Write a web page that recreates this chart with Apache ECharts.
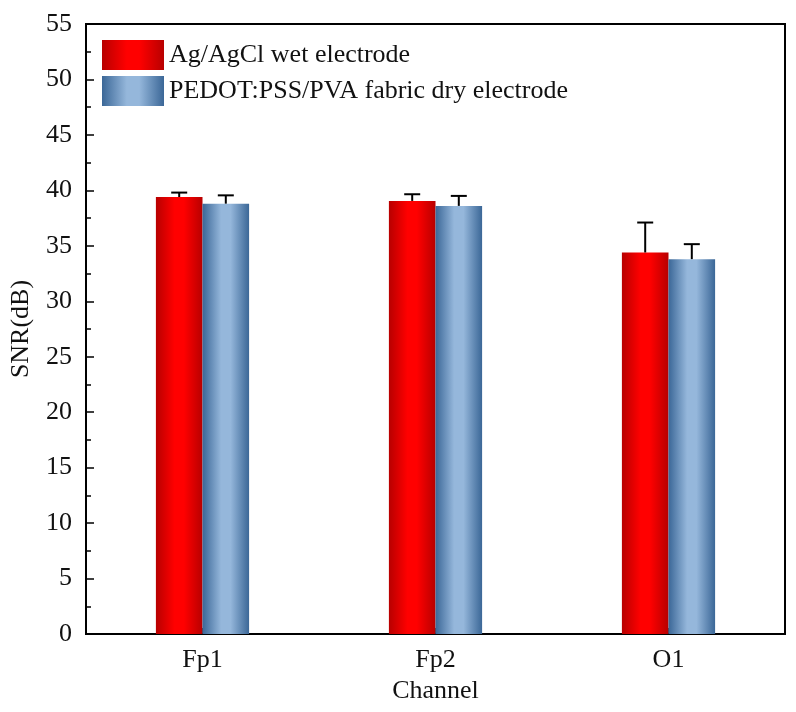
<!DOCTYPE html>
<html>
<head>
<meta charset="utf-8">
<script src="https://cdn.jsdelivr.net/npm/echarts@6/dist/echarts.min.js"></script>
<style>html,body{margin:0;padding:0;background:#fff;}#c{width:796px;height:712px;}</style>
</head>
<body>
<div id="c"></div>
<script>
const categories = ['Fp1', 'Fp2', 'O1'];
const seriesNames = ['Ag/AgCl wet electrode', 'PEDOT:PSS/PVA fabric dry electrode'];
const wetMean = [39.4, 39.05, 34.4];
const wetErr = [0.4, 0.6, 2.7];
const dryMean = [38.8, 38.6, 33.8];
const dryErr = [0.75, 0.9, 1.35];
const yTicks = [0, 5, 10, 15, 20, 25, 30, 35, 40, 45, 50, 55];

const FONT = '"Liberation Serif", "Times New Roman", serif';
const chart = echarts.init(document.getElementById('c'));

function grad(edge, mid) {
  return new echarts.graphic.LinearGradient(0, 0, 1, 0, [
    {offset: 0, color: edge},
    {offset: 0.4, color: mid},
    {offset: 0.6, color: mid},
    {offset: 1, color: edge}
  ]);
}
const redGrad = grad('#b80000', '#ff0000');
const blueGrad = grad('#3b6797', '#95b7db');

function errSeries(mean, err, sign) {
  return {
    type: 'custom',
    z: 5,
    data: mean.map((m, i) => [i, m, m + err[i]]),
    renderItem: function (params, api) {
      const base = api.coord([api.value(0), api.value(1)]);
      const top = api.coord([api.value(0), api.value(2)]);
      const band = api.size([1, 0])[0];
      const x = base[0] + sign * band * 0.1;
      const hw = 8;
      return {
        type: 'group',
        children: [
          {type: 'line', shape: {x1: x, y1: base[1], x2: x, y2: top[1]}, style: {stroke: '#000', lineWidth: 2}},
          {type: 'line', shape: {x1: x - hw, y1: top[1], x2: x + hw, y2: top[1]}, style: {stroke: '#000', lineWidth: 2}}
        ]
      };
    },
    silent: true,
    tooltip: {show: false}
  };
}

chart.setOption({
  animation: false,
  textStyle: {fontFamily: FONT},
  grid: {left: 82, right: 11, top: 24, bottom: 78, show: true, borderColor: '#000', borderWidth: 2},
  legend: {
    orient: 'vertical',
    left: 102, top: 40,
    padding: 0,
    itemWidth: 62, itemHeight: 30, itemGap: 6,
    icon: 'rect',
    data: seriesNames,
    textStyle: {fontFamily: FONT, fontSize: 26, color: '#111'}
  },
  xAxis: {
    type: 'category',
    data: categories,
    name: 'Channel',
    nameLocation: 'middle',
    nameGap: 36,
    nameTextStyle: {fontFamily: FONT, fontSize: 26, color: '#111'},
    axisLine: {lineStyle: {color: '#000', width: 2}},
    axisTick: {show: true, inside: true, alignWithLabel: true, length: 6, lineStyle: {color: '#000', width: 1.5}},
    axisLabel: {fontFamily: FONT, fontSize: 26, color: '#111', margin: 13}
  },
  yAxis: {
    type: 'value',
    min: 0, max: 55, interval: 5,
    name: 'SNR(dB)',
    nameLocation: 'middle',
    nameGap: 52,
    nameRotate: 90,
    nameTextStyle: {fontFamily: FONT, fontSize: 26, color: '#111'},
    axisLine: {show: true, lineStyle: {color: '#000', width: 2}},
    axisTick: {show: true, inside: true, length: 8, lineStyle: {color: '#000', width: 1.5}},
    minorTick: {show: true, splitNumber: 2, length: 5, lineStyle: {color: '#000', width: 1.5}},
    splitLine: {show: false},
    axisLabel: {fontFamily: FONT, fontSize: 26, color: '#111', margin: 14,
      formatter: v => yTicks.includes(v) ? String(v) : ''}
  },
  series: [
    {name: seriesNames[0], type: 'bar', data: wetMean, barWidth: '20%', barGap: '0%',
     itemStyle: {color: redGrad}},
    {name: seriesNames[1], type: 'bar', data: dryMean, barWidth: '20%', barGap: '0%',
     itemStyle: {color: blueGrad}},
    errSeries(wetMean, wetErr, -1),
    errSeries(dryMean, dryErr, 1)
  ]
});
</script>
</body>
</html>
